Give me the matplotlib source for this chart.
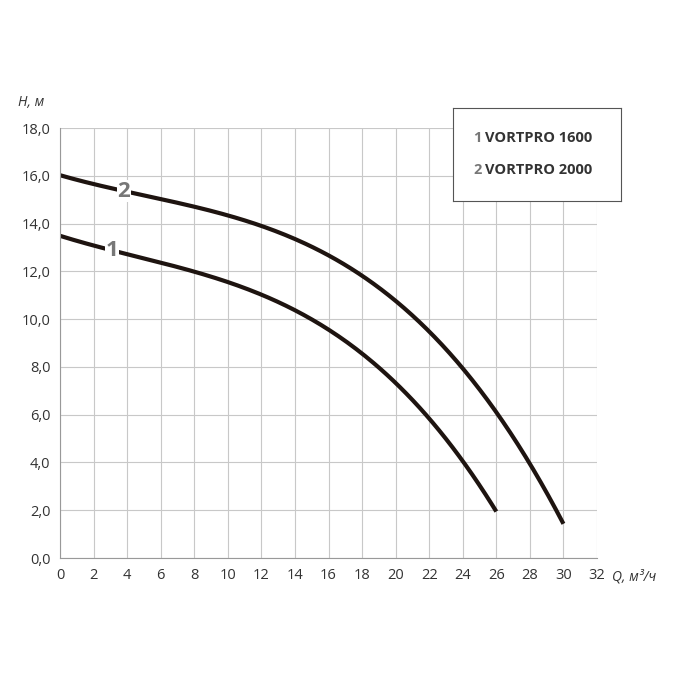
import matplotlib
matplotlib.use("Agg")
import matplotlib.pyplot as plt
import numpy as np
from matplotlib.ticker import FuncFormatter

plt.rcParams['font.family'] = ['Open Sans', 'DejaVu Sans']

q1 = [0, 4, 8, 10, 14, 16, 18, 20, 22, 24, 26]
h1 = [13.5, 12.7, 12.0, 11.5, 10.4, 9.6, 8.6, 7.3, 5.8, 4.0, 2.0]
q2 = [0, 4, 8, 12, 16, 18, 20, 22, 24, 26, 28, 30]
h2 = [16.0, 15.4, 14.7, 13.8, 12.6, 11.9, 10.9, 9.5, 7.9, 6.0, 3.9, 1.5]
names = ["VORTPRO 1600", "VORTPRO 2000"]

fig = plt.figure(figsize=(6.86, 6.86), dpi=100)
ax = fig.add_axes([60/686, 128/686, 537/686, 430/686])
ax.set_xlim(0, 32)
ax.set_ylim(0, 18)
ax.set_xticks(np.arange(0, 33, 2))
ax.set_yticks(np.arange(0, 18.1, 2))
ax.yaxis.set_major_formatter(FuncFormatter(lambda v, p: f"{v:.1f}".replace('.', ',')))
ax.grid(True, color='#c8c8c8', lw=0.8)
for s in ['top', 'right']:
    ax.spines[s].set_visible(False)
for s in ['left', 'bottom']:
    ax.spines[s].set_color('#999999')
ax.tick_params(length=0, labelsize=10.5, colors='#333333', pad=7)

for q, h in [(q1, h1), (q2, h2)]:
    xs = np.linspace(q[0], q[-1], 200)
    c = np.polyfit(q, h, 3)
    ax.plot(xs, np.polyval(c, xs), color='#1e1410', lw=3, solid_capstyle='butt')

ax.text(3.1, np.polyval(np.polyfit(q1, h1, 3), 3.1), "1", fontsize=16, fontweight='bold',
        color='#777777', ha='center', va='center', bbox=dict(fc='white', ec='none', pad=0.5))
ax.text(3.8, np.polyval(np.polyfit(q2, h2, 3), 3.8), "2", fontsize=16, fontweight='bold',
        color='#777777', ha='center', va='center', bbox=dict(fc='white', ec='none', pad=0.5))

fig.text(18/686, 1 - 103/686, "H, м", fontsize=10, style='italic', color='#333333', va='center')
fig.text(612/686, 1 - 577/686, "Q, м³/ч", fontsize=10, style='italic', color='#333333', va='center')

lx = fig.add_axes([453/686, 1 - 201/686, 168/686, 93/686])
lx.set_xticks([]); lx.set_yticks([])
for s in lx.spines.values():
    s.set_color('#555555'); s.set_linewidth(0.8)
for i, (yy, n) in enumerate([(0.68, names[0]), (0.33, names[1])]):
    lx.text(0.12, yy, f"{i+1}", color='#777777', fontsize=10.5, fontweight='bold', va='center', transform=lx.transAxes)
    lx.text(0.19, yy, n, color='#333333', fontsize=10.5, fontweight='bold', va='center', transform=lx.transAxes)

fig.savefig("out.png", dpi=100, facecolor='white')
